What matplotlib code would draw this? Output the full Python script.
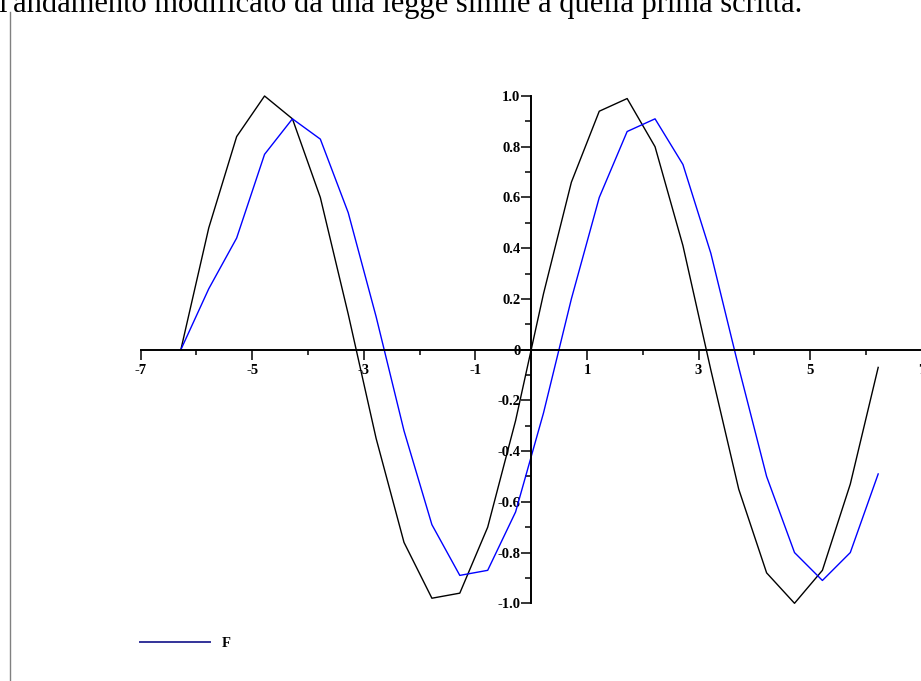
import matplotlib

matplotlib.use("Agg")
import matplotlib.pyplot as plt
from matplotlib.lines import Line2D
from matplotlib.ticker import FixedLocator, MultipleLocator

# sample points (x) and the two curves read at those points
xs = [-6.28, -5.78, -5.28, -4.78, -4.28, -3.78, -3.28, -2.78, -2.28, -1.78,
      -1.28, -0.78, -0.28, 0.22, 0.72, 1.22, 1.72, 2.22, 2.72, 3.22,
      3.72, 4.22, 4.72, 5.22, 5.72, 6.22]
y_orig = [0.00, 0.48, 0.84, 1.00, 0.91, 0.60, 0.14, -0.35, -0.76, -0.98,
          -0.96, -0.70, -0.28, 0.22, 0.66, 0.94, 0.99, 0.80, 0.41, -0.08,
          -0.55, -0.88, -1.00, -0.87, -0.53, -0.07]
y_F = [0.00, 0.24, 0.44, 0.77, 0.91, 0.83, 0.54, 0.13, -0.32, -0.69,
       -0.89, -0.87, -0.64, -0.25, 0.20, 0.60, 0.86, 0.91, 0.73, 0.38,
       -0.07, -0.50, -0.80, -0.91, -0.80, -0.49]

x_major = [-7, -5, -3, -1, 1, 3, 5, 7]
x_minor = [-6, -4, -2, 0, 2, 4, 6]
y_major = [-1.0, -0.8, -0.6, -0.4, -0.2, 0.0, 0.2, 0.4, 0.6, 0.8, 1.0]
y_labels = ["-1.0", "-0.8", "-0.6", "-0.4", "-0.2", "0", "0.2", "0.4", "0.6", "0.8", "1.0"]

caption = "l'andamento modificato da una legge simile a quella prima scritta."

W, H = 921, 681
fig = plt.figure(figsize=(W / 100, H / 100), dpi=100)
serif = "Liberation Serif"

# page text above the plot, clipped by the top edge
fig.text(-1 / W, 1 - 12 / H, caption, fontsize=22, family=serif,
         va="baseline", ha="left")
# thin margin rule on the left
fig.add_artist(Line2D([9.5 / W, 9.5 / W], [0, 1 - 12 / H], color="#808080",
                      lw=1.0, transform=fig.transFigure))

ax = fig.add_axes([140.7 / W, (H - 603.3) / H, 781 / W, 507.3 / H])
ax.set_xlim(-7, 7)
ax.set_ylim(-1, 1)

ax.plot(xs, y_orig, color="black", lw=1.0, clip_on=False)
ax.plot(xs, y_F, color="#0000ff", lw=1.0, clip_on=False)

for s in ("top", "right"):
    ax.spines[s].set_visible(False)
ax.spines["left"].set_position(("data", 0))
ax.spines["bottom"].set_position(("data", 0))
for s in ("left", "bottom"):
    ax.spines[s].set_linewidth(1.4)

ax.xaxis.set_major_locator(FixedLocator(x_major))
ax.xaxis.set_minor_locator(FixedLocator(x_minor))
ax.set_xticklabels([str(v) for v in x_major])
ax.set_yticks(y_major)
ax.set_yticklabels(y_labels)
ax.yaxis.set_minor_locator(MultipleLocator(0.1))

ax.tick_params(axis="x", which="major", direction="out", length=7.2, width=1.1, pad=3)
ax.tick_params(axis="x", which="minor", direction="out", length=3.6, width=1.1)
ax.tick_params(axis="y", which="major", direction="out", length=7.2, width=1.1, pad=0.5)
ax.tick_params(axis="y", which="minor", direction="out", length=4.0, width=1.1)
for lab in ax.get_xticklabels() + ax.get_yticklabels():
    lab.set_family(serif)
    lab.set_fontweight("bold")
    lab.set_fontsize(10.5)

handle = Line2D([], [], color="#333399", lw=1.4)
fig.legend([handle], ["F"], loc="center left",
           bbox_to_anchor=(140 / W, 1 - 643 / H), frameon=False,
           handlelength=4.8, handletextpad=0.8, borderpad=0, borderaxespad=0,
           prop={"family": serif, "weight": "bold", "size": 10.5})

fig.savefig("out.png", dpi=100)
